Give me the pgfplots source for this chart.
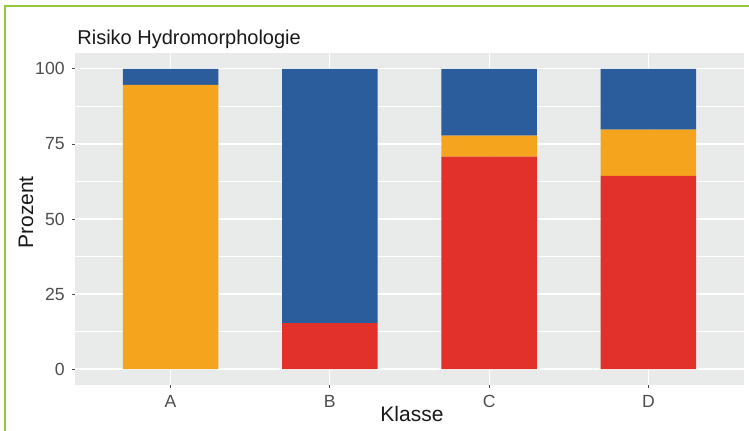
\documentclass[border=0pt]{standalone}
\usepackage{fontspec}
\setmainfont{Liberation Sans}
\usepackage{pgfplots}
\usepackage{pgfplotstable}
\pgfplotsset{compat=1.18}

\definecolor{panelgray}{HTML}{E9EAEA}
\definecolor{rblue}{HTML}{2B5C9C}
\definecolor{rorange}{HTML}{F4A41D}
\definecolor{rred}{HTML}{E2302B}
\definecolor{rgreen}{HTML}{95C83D}
\definecolor{ticktext}{HTML}{4D4D4D}

% Klasse, Anteile in Prozent (von unten nach oben: rot, orange, blau)
\pgfplotstableread{
x  red   orange blue
1  0     94.7   5.3
2  15.3  0      84.7
3  70.8  7.0    22.2
4  64.4  15.4   20.2
}\risiko

\begin{document}
\begin{tikzpicture}
\useasboundingbox (0,0) rectangle (374.5pt,215.5pt);
\begin{axis}[
    at={(37.5pt,23pt)}, anchor=south west,
    scale only axis,
    width=334.5pt, height=166pt,
    ybar stacked, bar width=0.6,
    xmin=0.4, xmax=4.6,
    ymin=-5.3, ymax=105.3,
    xtick={1,2,3,4}, xticklabels={A,B,C,D},
    ytick={0,25,50,75,100},
    minor y tick num=1,
    minor tick length=0pt,
    major tick length=1.5pt,
    tick align=outside,
    xtick pos=bottom, ytick pos=left,
    tick style={draw=black!70, line width=0.4pt},
    axis line style={draw=none},
    axis background/.style={fill=panelgray},
    xmajorgrids, ymajorgrids, yminorgrids,
    major grid style={white, line width=0.6pt},
    minor grid style={white, line width=0.35pt},
    tick label style={font=\fontsize{8.8}{10}\selectfont, text=ticktext, inner sep=0pt},
    xticklabel style={anchor=north, yshift=-3.5pt},
    yticklabel style={anchor=east, xshift=-3.5pt},
    /pgf/number format/assume math mode=true,
    clip=false,
]
\addplot[fill=rred, draw=none] table[x=x, y=red] {\risiko};
\addplot[fill=rorange, draw=none] table[x=x, y=orange] {\risiko};
\addplot[fill=rblue, draw=none] table[x=x, y=blue] {\risiko};
\end{axis}
\node[anchor=base west, inner sep=0pt, font=\fontsize{10}{12}\selectfont, text=black!90] at (38.5pt,193pt) {Risiko Hydromorphologie};
\node[anchor=base, inner sep=0pt, font=\fontsize{10.5}{12}\selectfont, text=black!90] at (206pt,4.65pt) {Klasse};
\node[anchor=base, rotate=90, inner sep=0pt, font=\fontsize{10.5}{12}\selectfont, text=black!90] at (16.5pt,109.25pt) {Prozent};
\draw[rgreen, line width=1pt] (2.5pt,0pt) -- (2.5pt,212.5pt) -- (380pt,212.5pt);
\end{tikzpicture}
\end{document}
